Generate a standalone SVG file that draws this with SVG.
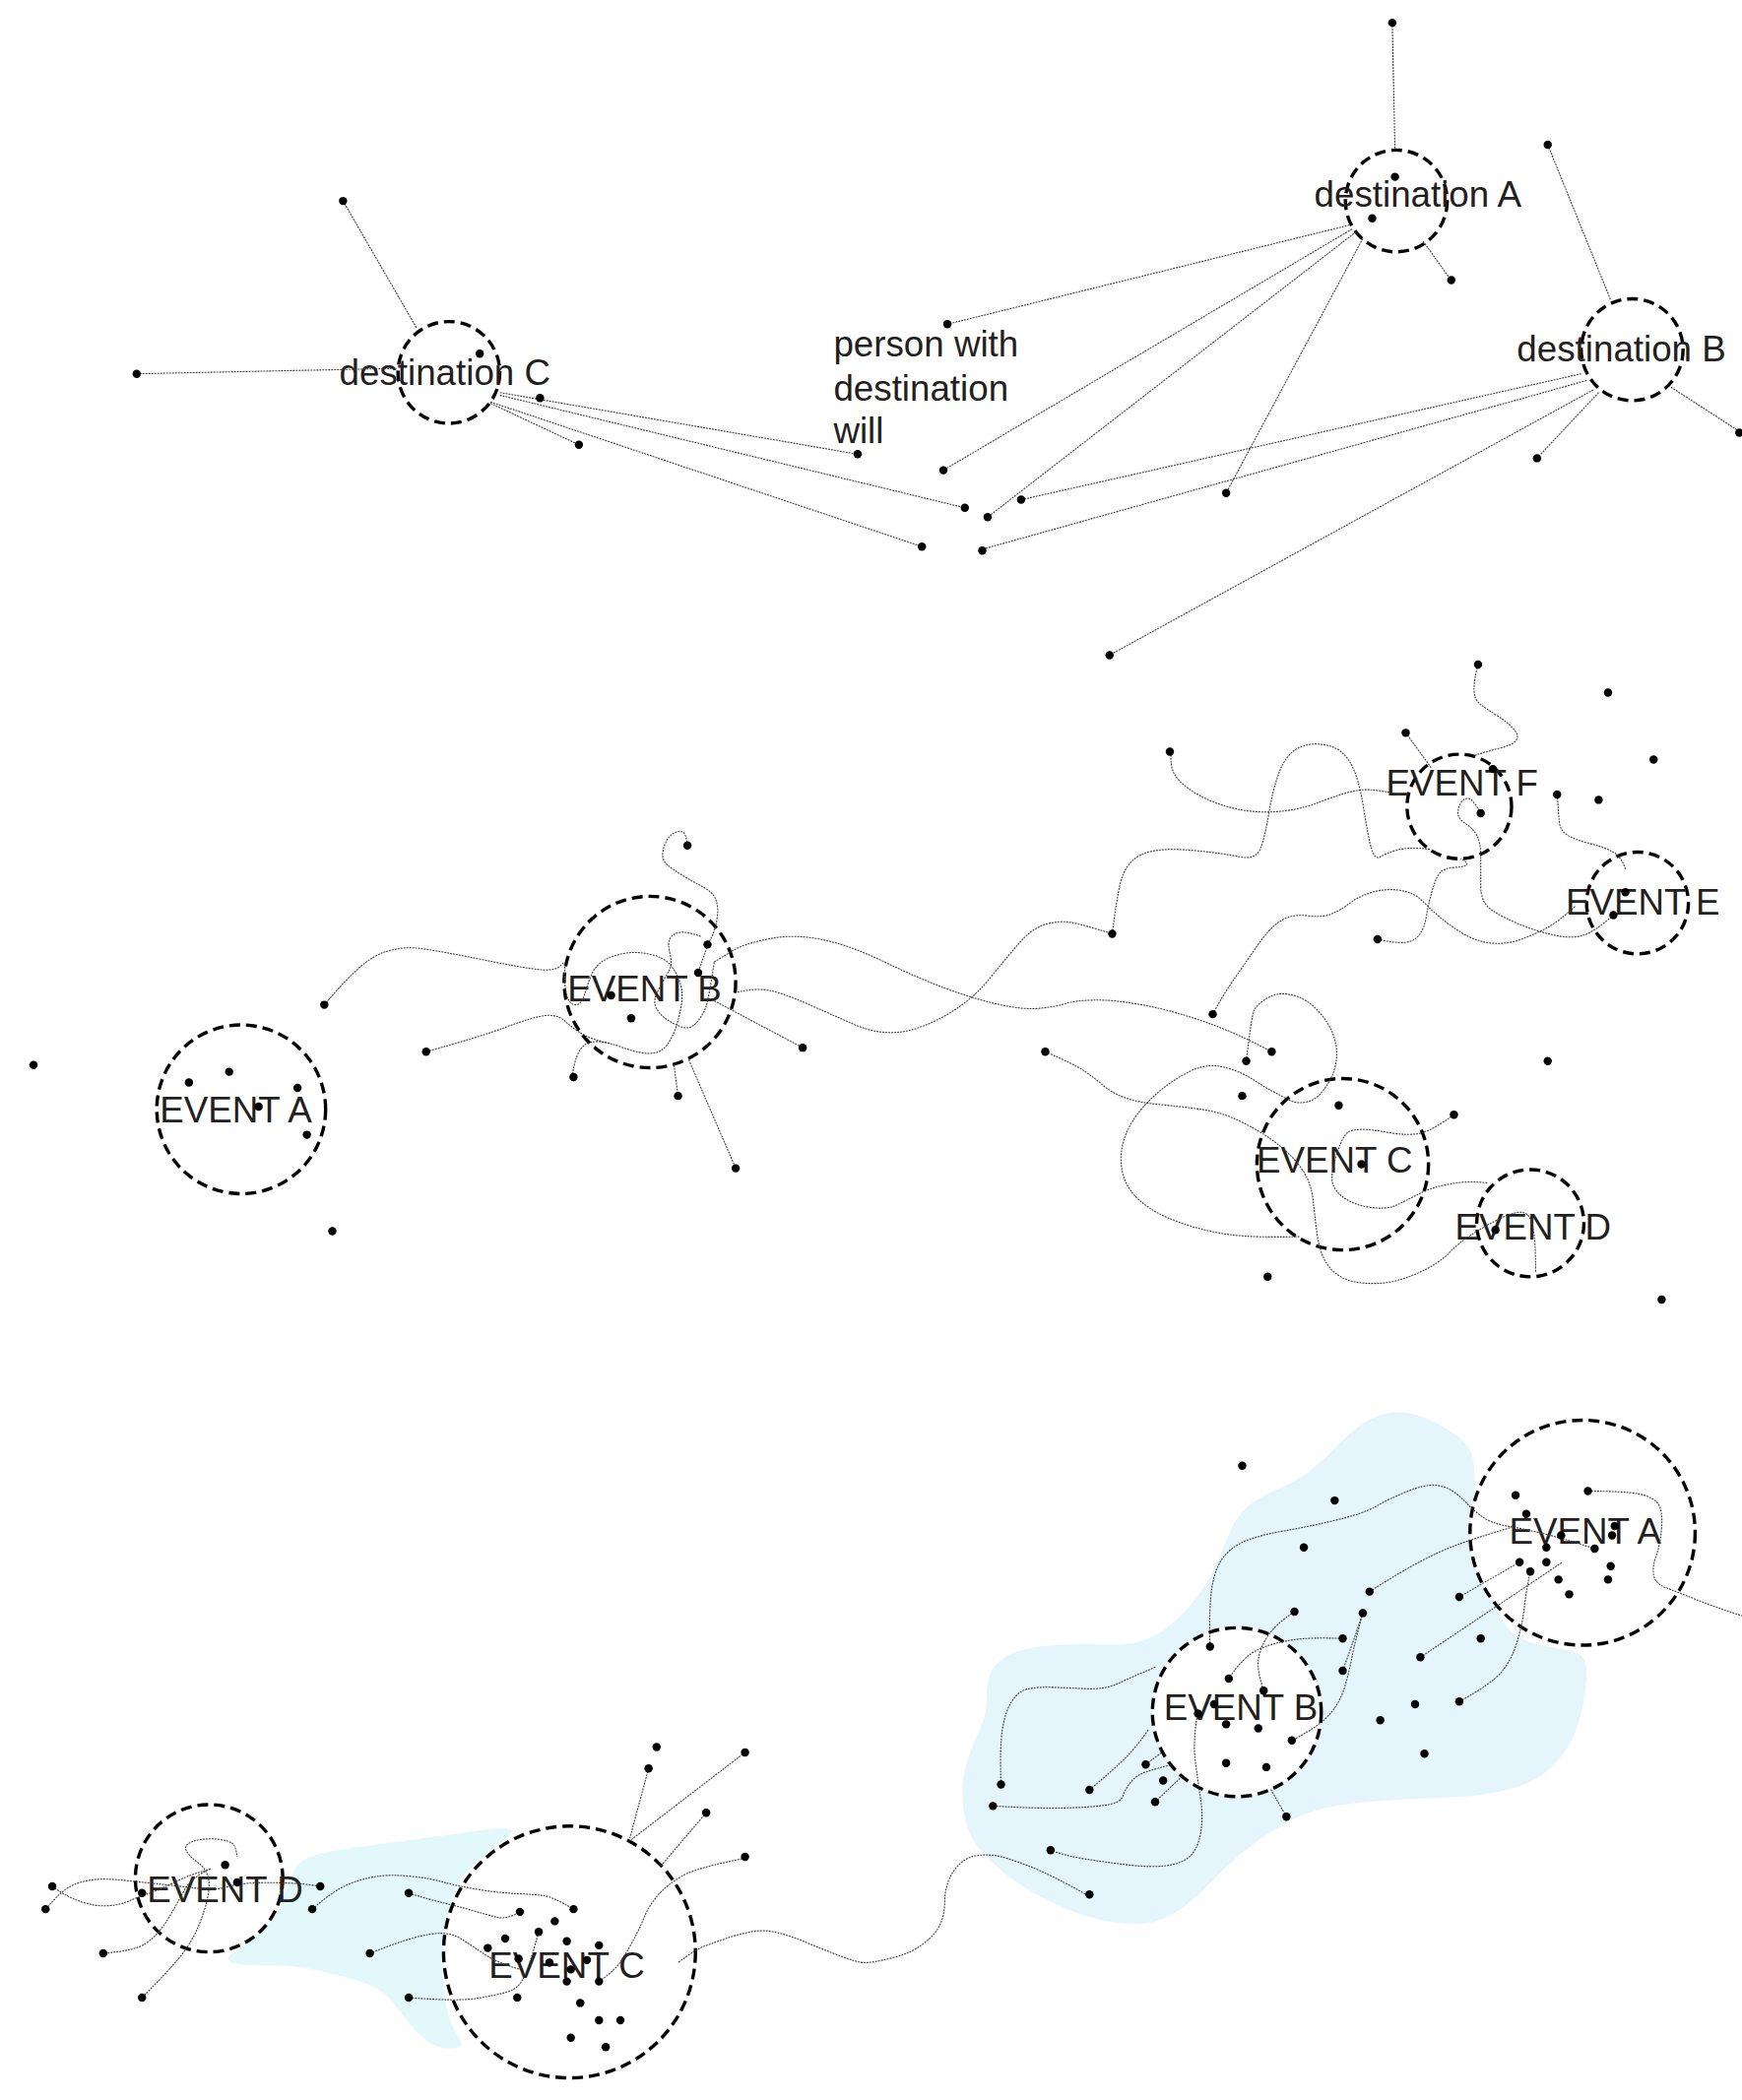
<svg xmlns="http://www.w3.org/2000/svg" width="1769" height="2133" viewBox="0 0 1769 2133">
<style>
.c{fill:#fff;stroke:#000;stroke-width:2.5;stroke-dasharray:8.1 4.4}
.l{fill:none;stroke:#3a3a3a;stroke-width:0.8;stroke-dasharray:1.4 0.8}
.t{font-family:"Liberation Sans",Arial,sans-serif;font-size:27px;fill:#231f20;text-anchor:middle}
.s{font-family:"Liberation Sans",Arial,sans-serif;font-size:27px;fill:#231f20}
.dots circle{fill:#000}
</style>
<rect width="1769" height="2133" fill="#fff"/>
<g transform="scale(1.3608)">
<g id="regions">
<path fill="#e4f5fb" d="M736.5,1265 Q736,1252 742,1244 748,1236 761.5,1232 775,1228 794,1227.5 813,1227 826.5,1227.5 840,1228 849.5,1225.5 859,1223 868.5,1216.5 878,1210 888,1198.5 898,1187 905.5,1171.5 913,1156 917,1145.5 921,1135 928.5,1127 936,1119 951.5,1112.5 967,1106 978.5,1097 990,1088 999.5,1077.5 1009,1067 1020.5,1060.5 1032,1054 1043.5,1054 1055,1054 1068.5,1060.5 1082,1067 1089.5,1073.5 1097,1080 1099,1088 1101,1096 1100,1122 1099,1148 1109.5,1180.5 1120,1213 1129.5,1219.5 1139,1226 1152.5,1228.5 1166,1231 1174,1232.5 1182,1234 1183.5,1243 1185,1252 1181.5,1271.5 1178,1291 1170,1304 1162,1317 1150.5,1325 1139,1333 1120,1337 1101,1341 1072.5,1342 1044,1343 1020.5,1345 997,1347 982,1351.5 967,1356 951.5,1365.5 936,1375 924.5,1385 913,1395 901.5,1407 890,1419 878.5,1426.5 867,1434 855.5,1435.5 844,1437 828.5,1434.5 813,1432 794,1424 775,1416 759.5,1405.5 744,1395 732.5,1382 721,1369 719,1349.5 717,1330 721,1317 725,1304 731,1291 737,1278 736.5,1265 Z"/>
<path fill="#e3f8fb" d="M172.5,1464.5 Q167,1462 176,1456 185,1450 196,1440.5 207,1431 210.5,1420 214,1409 217.5,1400 221,1391 228,1387.5 235,1384 246,1382 257,1380 280,1377 303,1374 320.5,1371.5 338,1369 356,1366.5 374,1364 379.5,1365 385,1366 378,1371.5 371,1377 356.5,1389 342,1401 337.5,1416 333,1431 331.5,1445.5 330,1460 330.5,1472.5 331,1485 333,1497 335,1509 340.5,1517.5 346,1526 344,1527.5 342,1529 335,1529 328,1529 321,1525 314,1521 306.5,1511.5 299,1502 292,1493.5 285,1485 274.5,1481 264,1477 249.5,1473.5 235,1470 224.5,1468.5 214,1467 196,1467 178,1467 172.5,1464.5 Z"/>
</g>
<g id="top-destination-a"><circle class="c" cx="1042" cy="150" r="38"/><text class="t" x="1058" y="154">destination A</text></g>
<g id="top-destination-b"><circle class="c" cx="1218" cy="261" r="38"/><text class="t" x="1210" y="270">destination B</text></g>
<g id="top-destination-c"><circle class="c" cx="335" cy="278" r="38"/><text class="t" x="332" y="287">destination C</text></g>
<g id="top-person-note"><text class="s" x="622" y="266">person with</text><text class="s" x="622" y="299">destination</text><text class="s" x="622" y="331">will</text></g>
<g id="mid-event-a"><circle class="c" cx="180" cy="828" r="63"/><text class="t" x="176" y="838">EVENT A</text></g>
<g id="mid-event-b"><circle class="c" cx="485" cy="733" r="64"/><text class="t" x="481" y="747">EVENT B</text></g>
<g id="mid-event-c"><circle class="c" cx="1002" cy="869" r="64"/><text class="t" x="996" y="875">EVENT C</text></g>
<g id="mid-event-d"><circle class="c" cx="1142" cy="913" r="40"/><text class="t" x="1144" y="925">EVENT D</text></g>
<g id="mid-event-e"><circle class="c" cx="1222" cy="674" r="38"/><text class="t" x="1226" y="683">EVENT E</text></g>
<g id="mid-event-f"><circle class="c" cx="1089" cy="602" r="39"/><text class="t" x="1091" y="594">EVENT F</text></g>
<g id="bot-event-a"><circle class="c" cx="1181" cy="1144" r="84"/><text class="t" x="1183" y="1152">EVENT A</text></g>
<g id="bot-event-b"><circle class="c" cx="923" cy="1278" r="63"/><text class="t" x="926" y="1284">EVENT B</text></g>
<g id="bot-event-c"><circle class="c" cx="425" cy="1457" r="94"/><text class="t" x="423" y="1476">EVENT C</text></g>
<g id="bot-event-d"><circle class="c" cx="156" cy="1402" r="55"/><text class="t" x="168" y="1420">EVENT D</text></g>
<g id="connectors" class="l">
<path d="M256,150 L311,245"/><path d="M102,279 L296,275"/><path d="M366,301 L432,332"/><path d="M373,293 L640,339"/><path d="M373,295 L720,379"/><path d="M366,300 L688,408"/>
<path d="M1039,17 L1041,112"/><path d="M1007,168 L707,242"/><path d="M1009,171 L704,351"/><path d="M1012,173 L737,386"/><path d="M1017,178 L915,368"/><path d="M1062,180 L1082,208"/>
<path d="M1155,108 L1202,224"/><path d="M1180,279 L762,373"/><path d="M1184,284 L733,410"/><path d="M1189,291 L828,489"/><path d="M1193,293 L1147,342"/><path d="M1247,289 L1298,322"/>
<path d="M242,750 Q259,730 269,721.5 279,713 289,710 299,707 309,707.5 319,708 358.5,716 398,724 407,724 416,724 419,720 422,716 421.5,726 421,736 423,743 425,750 429.5,750 434,750 436,743 438,736 441,728.5 444,721 450.5,717 457,713 466.5,711.5 476,710 486,712.5 496,715 500.5,720.5 505,726 507.5,733.5 510,741 508.5,750 507,759 504.5,766.5 502,774 498.5,779 495,784 490,785.5 485,787 477.5,785.5 470,784 462,781 454,778 447.5,777.5 441,777 437,779.5 433,782 430.5,788.5 428,795 427,804"/>
<path d="M318,785 Q358,774 378,766.5 398,759 407,758 416,757 422,762.5 428,768 435,772 442,776 456,779"/>
<path d="M513,631 Q512,622 509.5,621 507,620 503.5,621.5 500,623 497.5,627.5 495,632 494.5,637 494,642 498,645.5 502,649 509.5,653.5 517,658 524.5,662 532,666 534,671 536,676 535.5,682 535,688 533.5,693 532,698 530,701.5 528,705 521,726"/>
<path d="M523,699 Q512,695 507,696 502,697 500,700.5 498,704 500,712 502,720 499,725 496,730 491.5,738.5 487,747 489.5,752 492,757 497,760.5 502,764 508.5,766.5 515,769 520,763 525,757 527,751 529,745 533,718"/>
<path d="M533,718 Q538,715 546,710 554,705 572.5,701 591,697 612,701 633,705 659,717.5 685,730 705,737.5 725,745 744.5,749.5 764,754 777,752.5 790,751 795.5,749 801,747 815.5,746.5 830,746 852,750 874,754 898.5,762.5 923,771 949,785"/>
<path d="M548,741 Q565,737 575.5,739.5 586,742 603,749.5 620,757 637,764.5 654,772 670,770.5 686,769 705.5,758 725,747 738,731 751,715 760.5,704 770,693 780,690 790,687 799,688.5 808,690 830,697"/>
<path d="M830,697 Q833,673 835.5,661.5 838,650 844,643.5 850,637 861.5,635 873,633 893,635 913,637 925,639.5 937,642 940.5,633.5 944,625 947,606.5 950,588 955,575.5 960,563 968.5,558.5 977,554 989,556 1001,558 1007.5,569 1014,580 1017.5,602.5 1021,625 1023.5,633.5 1026,642 1030,639.5 1034,637 1042.5,634.5 1051,632 1068,634"/>
<path d="M874,561 Q873,571 876,577 879,583 887.5,589 896,595 908,599.5 920,604 933.5,605.5 947,607 960.5,605 974,603 984,599 994,595 1004,592 1014,589 1022.5,589.5 1031,590 1045,593"/>
<path d="M1105,607 Q1099,596 1095.5,596 1092,596 1090,599.5 1088,603 1088,607 1088,611 1094,615 1100,619 1102.5,624.5 1105,630 1105,639.5 1105,649 1105,661.5 1105,674 1113.5,679.5 1122,685 1135.5,690.5 1149,696 1162.5,698.5 1176,701 1184.5,697 1193,693 1204,683"/>
<path d="M1103,496 Q1100,507 1100,514.5 1100,522 1104.5,525.5 1109,529 1117,534 1125,539 1129.5,544 1134,549 1131.5,552.5 1129,556 1119,558.5 1109,561 1100,564"/>
<path d="M1049,547 L1068,573"/>
<path d="M1162,593 Q1163,605 1163.5,612.5 1164,620 1170,623.5 1176,627 1186,629.5 1196,632 1203,635.5 1210,639 1213,649"/>
<path d="M1028,701 Q1041,704 1048,703.5 1055,703 1059,698 1063,693 1064.5,683.5 1066,674 1069,664 1072,654 1075,651 1078,648 1085.5,647.5 1093,647 1094.5,645.5 1096,644 1090,641"/>
<path d="M905,757 Q913,742 921.5,730 930,718 938.5,705.5 947,693 955.5,687.5 964,682 975.5,683.5 987,685 994,682 1001,679 1007.5,674 1014,669 1024,666 1034,663 1044.5,664.5 1055,666 1061.5,672.5 1068,679 1075,685 1082,691 1092,697 1102,703 1113.5,704 1125,705 1135.5,701 1146,697 1154.5,692.5 1163,688 1176,676"/>
<path d="M930,792 Q934,759 935.5,755 937,751 942.5,747 948,743 954,742 960,741 968.5,744 977,747 984.5,755.5 992,764 995,772.5 998,781 997.5,788.5 997,796 994.5,802 992,808 987,814.5 982,821 975,822.5 968,824 963,821.5 958,819 950.5,815 943,811 935.5,806 928,801 917,797.5 906,794 896.5,796.5 887,799 874.5,807.5 862,816 852.5,827 843,838 839,850 835,862 837.5,874.5 840,887 851,896.5 862,906 880.5,912.5 899,919 917.5,921.5 936,924 970,923"/>
<path d="M780,785 Q801,794 808.5,799 816,804 823,810 830,816 840,819.5 850,823 866,824.5 882,826 896.5,828 911,830 924.5,836.5 938,843 948,850 958,857 965,864.5 972,872 975.5,879.5 979,887 980,896.5 981,906 982.5,918.5 984,931 988,939.5 992,948 1000.5,953 1009,958 1025,958 1041,958 1057.5,950.5 1074,943 1081,935.5 1088,928 1099,921 1110,914 1120.5,909 1131,904 1136.5,905 1142,906 1144,916 1146,926 1146,950"/>
<path d="M1085,832 Q1070,843 1061,845.5 1052,848 1037.5,845.5 1023,843 1016,843 1009,843 1005.5,845.5 1002,848 998,860 994,872 994,879.5 994,887 1001.5,893 1009,899 1021.5,901 1034,903 1041,900 1048,897 1057,892 1066,887 1080.5,884 1095,881 1110,883"/>
<path d="M503,795 L506,818"/><path d="M514,791 L549,872"/><path d="M533,747 L599,782"/>
<path d="M1185,1113 Q1212,1113 1222.5,1115 1233,1117 1237,1122 1241,1127 1240,1140 1239,1153 1236,1161 1233,1169 1234,1175.5 1235,1182 1243,1185 1251,1188 1266,1194 1281,1200 1300,1206"/>
<path d="M903,1229 Q902,1200 904.5,1184.5 907,1169 914,1161 921,1153 932.5,1149 944,1145 959,1142.5 974,1140 995.5,1135 1017,1130 1026.5,1124.5 1036,1119 1049.5,1113.5 1063,1108 1070.5,1108.5 1078,1109 1084,1113 1090,1117 1094.5,1122 1099,1127 1106,1132 1113,1137 1124.5,1139 1136,1141 1151,1144.5 1166,1148 1190,1156"/>
<path d="M1022,1188 Q1044,1174 1059,1166 1074,1158 1087.5,1153 1101,1148 1128,1140"/>
<path d="M1089,1192 L1134,1166"/><path d="M1060,1237 L1166,1166"/>
<path d="M1089,1270 Q1113,1257 1120.5,1248 1128,1239 1132,1226 1136,1213 1137.5,1200 1139,1187 1142,1173"/>
<path d="M966,1203 Q951,1213 945.5,1222 940,1231 939,1239 938,1247 943,1262"/>
<path d="M1002,1223 Q978,1222 964.5,1224 951,1226 939.5,1231 928,1236 917,1253"/>
<path d="M1017,1204 Q1011,1226 1009,1236.5 1007,1247 1004,1257.5 1001,1268 995.5,1275.5 990,1283 982,1288.5 974,1294 964,1299"/>
<path d="M1002,1247 Q1010,1225 1017,1204"/>
<path d="M747,1332 Q746,1304 748,1291 750,1278 755,1270 760,1262 767.5,1260.5 775,1259 786.5,1259.5 798,1260 811.5,1260.5 825,1261 834.5,1256.5 844,1252 863,1244"/>
<path d="M813,1336 Q832,1320 840,1312 848,1304 857,1291"/>
<path d="M741,1348 Q775,1350 794,1349.5 813,1349 824.5,1347.5 836,1346 838,1340.5 840,1335 844,1330 848,1325 855.5,1322.5 863,1320 875,1317"/>
<path d="M862,1345 L882,1326"/><path d="M855,1317 L867,1308"/>
<path d="M784,1381 Q794,1385 809.5,1387.5 825,1390 842,1392 859,1394 870.5,1392.5 882,1391 888,1385.5 894,1380 896,1368 898,1356 896,1343 894,1330 892,1314.5 890,1299 894,1278"/>
<path d="M960,1356 L948,1335"/>
<path d="M814,1416 Q784,1399 767,1392.5 750,1386 743,1385 736,1384 729,1385 722,1386 716.5,1391 711,1396 708,1403.5 705,1411 705,1419.5 705,1428 702,1435.5 699,1443 689.5,1450.5 680,1458 665.5,1461.5 651,1465 645.5,1465 640,1465 624.5,1459 609,1453 599.5,1449 590,1445 580,1442.5 570,1440 560,1442 550,1444 541.5,1447 533,1450 526,1452.5 519,1455 506,1465"/>
<path d="M39,1408 Q50,1416 60.5,1419.5 71,1423 80,1422.5 89,1422 96,1419 103,1416 110.5,1413.5 118,1411 123,1408.5 128,1406 135.5,1402.5 143,1399 157,1395"/>
<path d="M157,1395 Q143,1401 137.5,1411 132,1421 126.5,1430.5 121,1440 114,1446.5 107,1453 98,1455 89,1457 77,1458"/>
<path d="M34,1425 Q46,1411 53.5,1407.5 61,1404 69.5,1403 78,1402 92.5,1403.5 107,1405 121,1406.5 135,1408 147.5,1409.5 160,1411 169,1408.5 178,1406 189,1405.5 200,1405 214,1405.5 228,1406 239,1408"/>
<path d="M106,1491 Q125,1472 134,1461 143,1450 148,1438 153,1426 155,1416 157,1406 155,1400 153,1394 148,1390.5 143,1387 140,1383 137,1379 140,1376.5 143,1374 150,1373 157,1372 164,1373 171,1374 173.5,1376 176,1378 177,1386"/>
<path d="M233,1425 Q249,1411 260,1406.5 271,1402 281.5,1400.5 292,1399 306.5,1400.5 321,1402 331.5,1405 342,1408 358,1410.5 374,1413 386.5,1413.5 399,1414 406,1415 413,1416 428,1425"/>
<path d="M305,1413 Q321,1418 331.5,1420.5 342,1423 352.5,1426 363,1429 370.5,1431 378,1433 388,1427"/>
<path d="M276,1458 Q296,1450 308.5,1446.5 321,1443 329.5,1443 338,1443 345.5,1448 353,1453 362,1459 371,1465 388,1470"/>
<path d="M305,1491 Q342,1494 356.5,1491.5 371,1489 378,1487 385,1485 388.5,1480 392,1475 394.5,1467.5 397,1460 402,1442"/>
<path d="M484,1320 L470,1372"/><path d="M556,1308 L470,1374"/><path d="M527,1353 L493,1393"/>
<path d="M556,1387 Q520,1394 509.5,1400 499,1406 492,1413.5 485,1421 481,1430.5 477,1440 473.5,1446.5 470,1453 465,1461.5 460,1470 447,1479"/>
</g>
<g id="people-top" class="dots">
<circle cx="1039" cy="17" r="3.1"/><circle cx="1155" cy="108" r="3.1"/><circle cx="1041" cy="132" r="3.1"/><circle cx="1024" cy="163" r="3.1"/><circle cx="1083" cy="209" r="3.1"/><circle cx="707" cy="242" r="3.1"/><circle cx="704" cy="351" r="3.1"/><circle cx="737" cy="386" r="3.1"/><circle cx="762" cy="373" r="3.1"/><circle cx="733" cy="411" r="3.1"/><circle cx="915" cy="368" r="3.1"/><circle cx="1147" cy="342" r="3.1"/><circle cx="1298" cy="323" r="3.1"/><circle cx="828" cy="489" r="3.1"/><circle cx="640" cy="339" r="3.1"/><circle cx="720" cy="379" r="3.1"/><circle cx="688" cy="408" r="3.1"/><circle cx="403" cy="297" r="3.1"/><circle cx="432" cy="332" r="3.1"/><circle cx="358" cy="264" r="3.1"/><circle cx="256" cy="150" r="3.1"/><circle cx="102" cy="279" r="3.1"/>
</g>
<g id="people-middle" class="dots">
<circle cx="25" cy="795" r="3.1"/><circle cx="141" cy="808" r="3.1"/><circle cx="171" cy="800" r="3.1"/><circle cx="222" cy="812" r="3.1"/><circle cx="193" cy="826" r="3.1"/><circle cx="229" cy="847" r="3.1"/><circle cx="248" cy="919" r="3.1"/>
<circle cx="242" cy="750" r="3.1"/><circle cx="318" cy="785" r="3.1"/><circle cx="513" cy="631" r="3.1"/><circle cx="528" cy="705" r="3.1"/><circle cx="521" cy="726" r="3.1"/><circle cx="456" cy="743" r="3.1"/><circle cx="471" cy="760" r="3.1"/><circle cx="428" cy="804" r="3.1"/><circle cx="506" cy="818" r="3.1"/><circle cx="549" cy="872" r="3.1"/><circle cx="599" cy="782" r="3.1"/>
<circle cx="830" cy="697" r="3.1"/><circle cx="905" cy="757" r="3.1"/><circle cx="949" cy="785" r="3.1"/><circle cx="930" cy="792" r="3.1"/><circle cx="927" cy="818" r="3.1"/><circle cx="999" cy="825" r="3.1"/><circle cx="1016" cy="869" r="3.1"/><circle cx="946" cy="953" r="3.1"/><circle cx="780" cy="785" r="3.1"/><circle cx="1085" cy="832" r="3.1"/><circle cx="1155" cy="792" r="3.1"/><circle cx="1240" cy="970" r="3.1"/><circle cx="1116" cy="918" r="3.1"/>
<circle cx="873" cy="561" r="3.1"/><circle cx="1049" cy="547" r="3.1"/><circle cx="1103" cy="496" r="3.1"/><circle cx="1200" cy="517" r="3.1"/><circle cx="1234" cy="567" r="3.1"/><circle cx="1162" cy="593" r="3.1"/><circle cx="1193" cy="597" r="3.1"/><circle cx="1105" cy="607" r="3.1"/><circle cx="1114" cy="574" r="3.1"/><circle cx="1028" cy="701" r="3.1"/><circle cx="1213" cy="666" r="3.1"/><circle cx="1204" cy="683" r="3.1"/>
</g>
<g id="people-bottom" class="dots">
<circle cx="927" cy="1094" r="3.1"/><circle cx="996" cy="1120" r="3.1"/><circle cx="973" cy="1155" r="3.1"/><circle cx="1131" cy="1116" r="3.1"/><circle cx="1185" cy="1113" r="3.1"/><circle cx="1139" cy="1130" r="3.1"/><circle cx="1205" cy="1139" r="3.1"/><circle cx="1203" cy="1146" r="3.1"/><circle cx="1165" cy="1146" r="3.1"/><circle cx="1154" cy="1155" r="3.1"/><circle cx="1190" cy="1156" r="3.1"/><circle cx="1134" cy="1166" r="3.1"/><circle cx="1154" cy="1166" r="3.1"/><circle cx="1202" cy="1169" r="3.1"/><circle cx="1142" cy="1173" r="3.1"/><circle cx="1163" cy="1179" r="3.1"/><circle cx="1200" cy="1179" r="3.1"/><circle cx="1171" cy="1190" r="3.1"/>
<circle cx="1022" cy="1188" r="3.1"/><circle cx="1089" cy="1192" r="3.1"/><circle cx="966" cy="1203" r="3.1"/><circle cx="1017" cy="1204" r="3.1"/><circle cx="1105" cy="1223" r="3.1"/><circle cx="1002" cy="1223" r="3.1"/><circle cx="1060" cy="1237" r="3.1"/><circle cx="903" cy="1229" r="3.1"/><circle cx="917" cy="1253" r="3.1"/><circle cx="1002" cy="1247" r="3.1"/><circle cx="943" cy="1262" r="3.1"/><circle cx="906" cy="1272" r="3.1"/><circle cx="894" cy="1279" r="3.1"/><circle cx="915" cy="1287" r="3.1"/><circle cx="939" cy="1290" r="3.1"/><circle cx="1056" cy="1272" r="3.1"/><circle cx="1089" cy="1270" r="3.1"/><circle cx="1030" cy="1284" r="3.1"/><circle cx="964" cy="1299" r="3.1"/><circle cx="1063" cy="1309" r="3.1"/><circle cx="915" cy="1316" r="3.1"/><circle cx="945" cy="1319" r="3.1"/><circle cx="855" cy="1317" r="3.1"/><circle cx="868" cy="1329" r="3.1"/><circle cx="862" cy="1345" r="3.1"/><circle cx="813" cy="1336" r="3.1"/><circle cx="747" cy="1332" r="3.1"/><circle cx="741" cy="1348" r="3.1"/><circle cx="960" cy="1356" r="3.1"/><circle cx="784" cy="1381" r="3.1"/><circle cx="813" cy="1414" r="3.1"/>
<circle cx="490" cy="1304" r="3.1"/><circle cx="556" cy="1308" r="3.1"/><circle cx="484" cy="1320" r="3.1"/><circle cx="527" cy="1353" r="3.1"/><circle cx="556" cy="1386" r="3.1"/><circle cx="168" cy="1392" r="3.1"/><circle cx="39" cy="1408" r="3.1"/><circle cx="34" cy="1425" r="3.1"/><circle cx="106" cy="1413" r="3.1"/><circle cx="177" cy="1405" r="3.1"/><circle cx="239" cy="1408" r="3.1"/><circle cx="233" cy="1425" r="3.1"/><circle cx="305" cy="1413" r="3.1"/><circle cx="388" cy="1427" r="3.1"/><circle cx="428" cy="1425" r="3.1"/><circle cx="414" cy="1434" r="3.1"/><circle cx="402" cy="1442" r="3.1"/><circle cx="377" cy="1447" r="3.1"/><circle cx="423" cy="1449" r="3.1"/><circle cx="447" cy="1452" r="3.1"/><circle cx="364" cy="1454" r="3.1"/><circle cx="387" cy="1462" r="3.1"/><circle cx="410" cy="1465" r="3.1"/><circle cx="438" cy="1463" r="3.1"/><circle cx="426" cy="1470" r="3.1"/><circle cx="423" cy="1479" r="3.1"/><circle cx="447" cy="1479" r="3.1"/><circle cx="386" cy="1491" r="3.1"/><circle cx="433" cy="1495" r="3.1"/><circle cx="447" cy="1508" r="3.1"/><circle cx="463" cy="1508" r="3.1"/><circle cx="426" cy="1521" r="3.1"/><circle cx="452" cy="1528" r="3.1"/><circle cx="276" cy="1458" r="3.1"/><circle cx="305" cy="1491" r="3.1"/><circle cx="77" cy="1458" r="3.1"/><circle cx="106" cy="1491" r="3.1"/>
</g>
</g>
</svg>
